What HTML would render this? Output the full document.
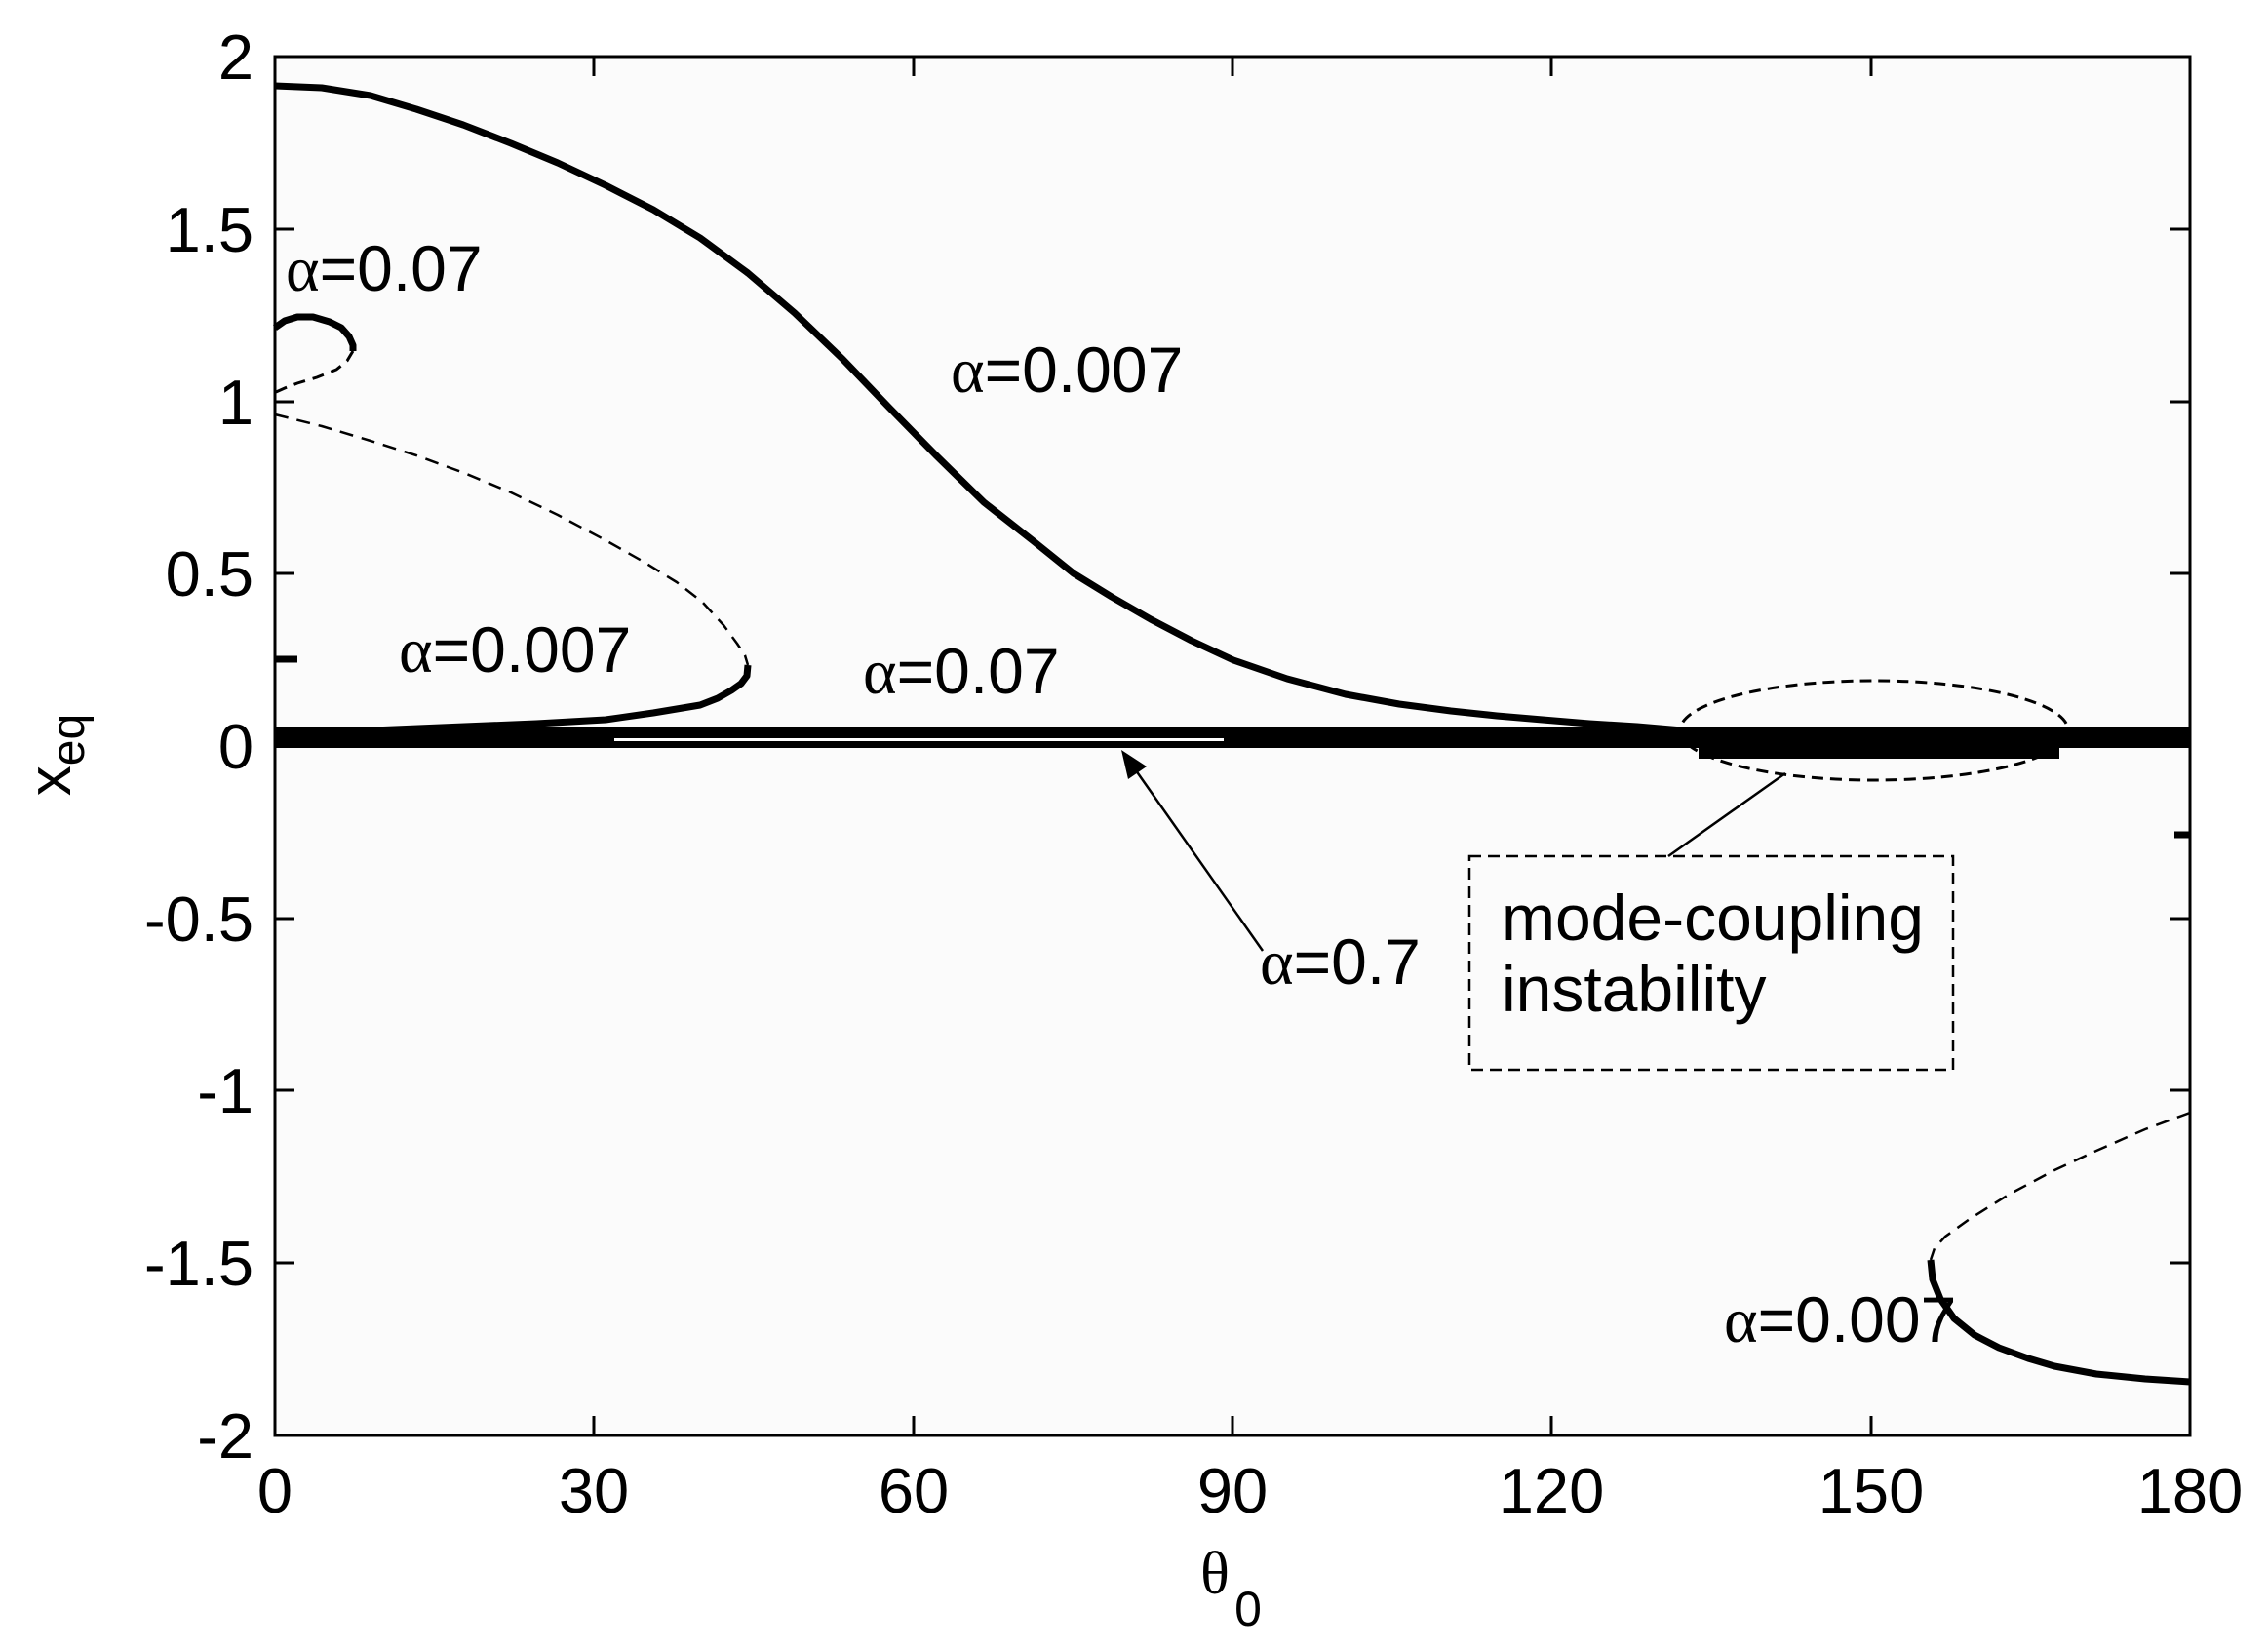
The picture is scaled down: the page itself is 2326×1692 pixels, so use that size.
<!DOCTYPE html>
<html><head><meta charset="utf-8"><style>
html,body{margin:0;padding:0;background:#fff;}
svg{display:block;}
text{font-family:"Liberation Sans",Arial,sans-serif;fill:#000;}
.a{font-family:"Liberation Serif",serif;}
</style></head><body>
<svg width="2326" height="1692" viewBox="0 0 2326 1692" xmlns="http://www.w3.org/2000/svg">
<rect x="282" y="58" width="1964" height="1414" fill="#fbfbfb"/>
<!-- zero band -->
<rect x="282" y="746" width="1964" height="21" fill="#000"/>
<rect x="630" y="757" width="625" height="3" fill="#fff"/>
<rect x="1742" y="746" width="370" height="32" fill="#000"/>
<!-- big alpha=0.007 curve -->
<polyline fill="none" stroke="#000" stroke-width="7" stroke-linejoin="round" points="282,88 330,90 380,98 427,112 475,128 524,147 572,167 621,190 670,215 718,244 767,280 815,321 864,368 912,418 960,467 1009,515 1060,555 1101,588 1140,612 1180,635 1222,657 1265,677 1320,696 1380,712 1435,722 1488,729 1535,734 1582,738 1630,742 1679,745 1760,752"/>
<!-- lower-left alpha=0.007 branch -->
<polyline fill="none" stroke="#000" stroke-width="2.5" stroke-dasharray="14,9" stroke-linejoin="round" points="282,425 330,437 380,452 427,467 476,485 524,505 572,528 621,554 660,576 694,597 720,617 742,641 756,660 764,672 767,682"/>
<polyline fill="none" stroke="#000" stroke-width="7" stroke-linejoin="round" points="767,682 766,693 760,701 750,708 736,716 718,723 670,731 621,738 550,742 476,745 380,749 282,752"/>
<!-- alpha=0.07 loop -->
<polyline fill="none" stroke="#000" stroke-width="7" stroke-linejoin="round" points="282,336 292,329 305,325 321,325 338,330 350,336 358,345 362,354 362,360"/>
<polyline fill="none" stroke="#000" stroke-width="3" stroke-dasharray="12,8" points="362,360 356,370 345,379 325,387 305,393 292,398 283,402"/>
<!-- small marks -->
<line x1="282" y1="676" x2="305" y2="676" stroke="#000" stroke-width="7"/>
<line x1="2230" y1="856" x2="2246" y2="856" stroke="#000" stroke-width="7"/>
<!-- bottom-right alpha=0.007 -->
<polyline fill="none" stroke="#000" stroke-width="2.5" stroke-dasharray="14,9" points="2246,1141 2200,1158 2150,1180 2107,1200 2060,1225 2020,1250 1995,1268 1984,1280 1980,1292"/>
<polyline fill="none" stroke="#000" stroke-width="7" stroke-linejoin="round" points="1980,1292 1982,1312 1990,1332 2004,1352 2025,1369 2050,1382 2080,1393 2107,1401 2150,1409 2200,1414 2246,1417"/>
<!-- mode-coupling ellipse -->
<ellipse cx="1922" cy="749" rx="199" ry="51" fill="none" stroke="#000" stroke-width="3" stroke-dasharray="12,7"/>
<line x1="1831" y1="793" x2="1711" y2="878" stroke="#000" stroke-width="2.5"/>
<rect x="1507" y="878" width="496" height="219" fill="none" stroke="#000" stroke-width="2.5" stroke-dasharray="12,7"/>
<!-- arrow alpha=0.7 -->
<line x1="1295" y1="975" x2="1160" y2="783" stroke="#000" stroke-width="2.5"/>
<polygon points="1150,769 1176,786 1157,799" fill="#000"/>
<!-- axes box -->
<rect x="282" y="58" width="1964" height="1414" fill="none" stroke="#000" stroke-width="3"/>
<g stroke="#000" stroke-width="3">
<line x1="609" y1="58" x2="609" y2="78"/><line x1="609" y1="1472" x2="609" y2="1452"/>
<line x1="937" y1="58" x2="937" y2="78"/><line x1="937" y1="1472" x2="937" y2="1452"/>
<line x1="1264" y1="58" x2="1264" y2="78"/><line x1="1264" y1="1472" x2="1264" y2="1452"/>
<line x1="1591" y1="58" x2="1591" y2="78"/><line x1="1591" y1="1472" x2="1591" y2="1452"/>
<line x1="1919" y1="58" x2="1919" y2="78"/><line x1="1919" y1="1472" x2="1919" y2="1452"/>
<line x1="282" y1="235" x2="302" y2="235"/><line x1="2246" y1="235" x2="2226" y2="235"/>
<line x1="282" y1="412" x2="302" y2="412"/><line x1="2246" y1="412" x2="2226" y2="412"/>
<line x1="282" y1="588" x2="302" y2="588"/><line x1="2246" y1="588" x2="2226" y2="588"/>
<line x1="282" y1="765" x2="302" y2="765"/><line x1="2246" y1="765" x2="2226" y2="765"/>
<line x1="282" y1="942" x2="302" y2="942"/><line x1="2246" y1="942" x2="2226" y2="942"/>
<line x1="282" y1="1118" x2="302" y2="1118"/><line x1="2246" y1="1118" x2="2226" y2="1118"/>
<line x1="282" y1="1295" x2="302" y2="1295"/><line x1="2246" y1="1295" x2="2226" y2="1295"/>
</g>
<!-- tick labels -->
<g font-size="65" text-anchor="middle">
<text x="282" y="1551">0</text><text x="609" y="1551">30</text><text x="937" y="1551">60</text>
<text x="1264" y="1551">90</text><text x="1591" y="1551">120</text><text x="1919" y="1551">150</text><text x="2246" y="1551">180</text>
</g>
<g font-size="65" text-anchor="end">
<text x="260" y="81">2</text><text x="260" y="258">1.5</text><text x="260" y="435">1</text>
<text x="260" y="611">0.5</text><text x="260" y="788">0</text><text x="260" y="965">-0.5</text>
<text x="260" y="1141">-1</text><text x="260" y="1318">-1.5</text><text x="260" y="1495">-2</text>
</g>
<!-- axis labels -->
<text class="a" x="1246" y="1634" font-size="62" text-anchor="middle">θ</text>
<text x="1280" y="1667" font-size="50" text-anchor="middle">0</text>
<g transform="translate(72,774) rotate(-90)">
<text x="0" y="0" font-size="62" text-anchor="middle">x<tspan font-size="48" dy="14">eq</tspan></text>
</g>
<!-- annotations -->
<g font-size="66">
<text x="293" y="298"><tspan class="a">α</tspan>=0.07</text>
<text x="975" y="402"><tspan class="a">α</tspan>=0.007</text>
<text x="409" y="689"><tspan class="a">α</tspan>=0.007</text>
<text x="885" y="711"><tspan class="a">α</tspan>=0.07</text>
<text x="1292" y="1009"><tspan class="a">α</tspan>=0.7</text>
<text x="1768" y="1376"><tspan class="a">α</tspan>=0.007</text>
<text x="1540" y="964">mode-coupling</text>
<text x="1540" y="1037">instability</text>
</g>
</svg>
</body></html>
